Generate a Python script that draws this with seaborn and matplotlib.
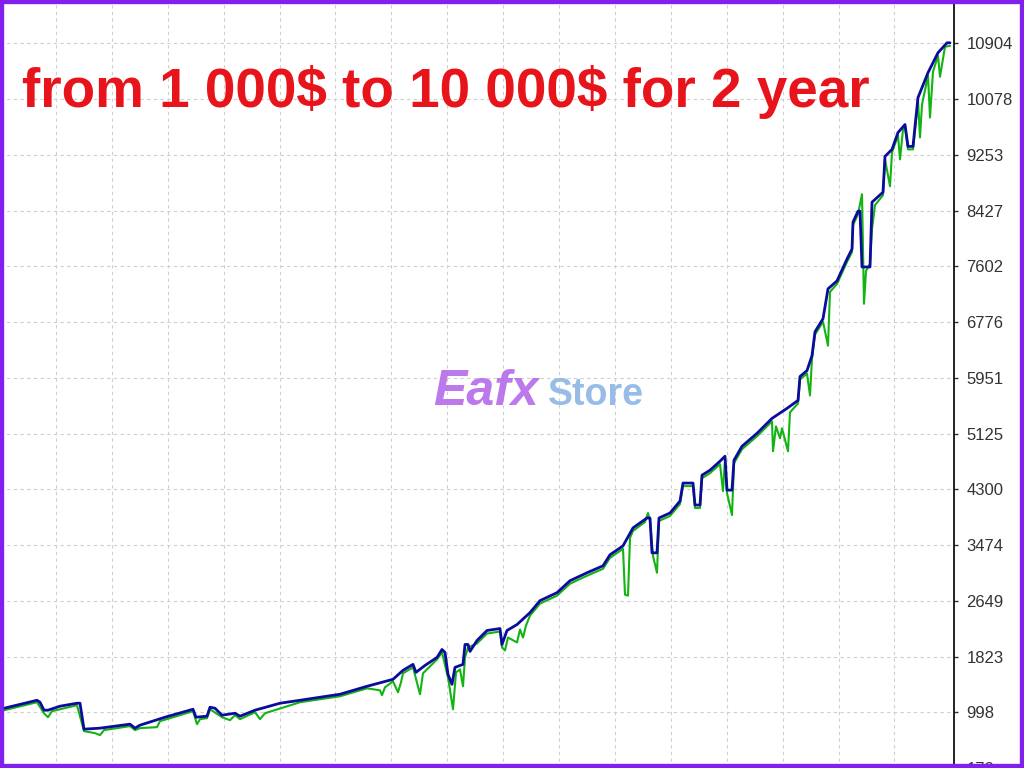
import numpy as np
import pandas as pd
import matplotlib
matplotlib.use("Agg")
import matplotlib.pyplot as plt
import seaborn as sns
from matplotlib.patches import Rectangle

# --- data (x = trade index, y = account value $) ---
balance_x = [0, 37, 40, 44, 48, 60, 77, 80, 84, 100, 130, 135, 140, 165, 193, 196,
             207, 210, 215, 222, 235, 240, 255, 280, 300, 340, 367, 393, 403, 413,
             416, 425, 437, 442, 445, 448, 452, 455, 463, 465, 468, 470, 477, 487,
             500, 502, 507, 517, 530, 540, 557, 570, 587, 603, 610, 623, 633, 647,
             650, 652, 657, 659, 670, 680, 683, 693, 695, 700, 702, 710, 720, 725,
             727, 732, 734, 742, 757, 772, 787, 798, 800, 807, 812, 815, 823, 828,
             837, 847, 852, 853, 858, 860, 862, 870, 872, 883, 885, 892, 898, 905,
             908, 913, 915, 918, 928, 938, 947, 950]
balance_y = [1042, 1175, 1146, 1028, 1028, 1087, 1131, 1131, 747, 762, 821, 762, 806,
             924, 1042, 924, 939, 1072, 1057, 954, 983, 939, 1028, 1131, 1175, 1264,
             1382, 1485, 1618, 1706, 1588, 1691, 1809, 1927, 1883, 1558, 1411, 1662,
             1706, 2001, 2001, 1898, 2060, 2208, 2237, 2001, 2208, 2296, 2473, 2650,
             2768, 2945, 3063, 3166, 3329, 3461, 3727, 3874, 3874, 3358, 3358, 3874,
             3948, 4125, 4391, 4391, 4066, 4066, 4508, 4582, 4715, 4789, 4287, 4287,
             4730, 4936, 5128, 5349, 5497, 5615, 5969, 6057, 6278, 6632, 6824, 7267,
             7385, 7709, 7857, 8255, 8417, 8417, 7591, 7591, 8550, 8698, 9228, 9332,
             9582, 9700, 9376, 9376, 9671, 10099, 10468, 10763, 10910, 10910]

equity_x = [0, 37, 44, 48, 52, 77, 84, 95, 100, 104, 130, 135, 140, 157, 160, 193,
            197, 200, 207, 210, 222, 230, 235, 240, 255, 260, 265, 300, 340, 367,
            380, 382, 385, 393, 398, 401, 403, 413, 420, 423, 437, 442, 448, 453,
            456, 460, 463, 465, 468, 477, 487, 500, 502, 505, 508, 517, 520, 523,
            526, 530, 540, 557, 570, 587, 603, 610, 623, 625, 628, 630, 633, 645,
            648, 650, 653, 657, 659, 670, 680, 683, 693, 695, 700, 702, 710, 720,
            723, 725, 727, 732, 734, 742, 757, 772, 773, 776, 780, 782, 788, 790,
            798, 800, 807, 810, 812, 815, 823, 828, 830, 837, 847, 852, 853, 858,
            862, 864, 866, 870, 872, 875, 883, 885, 890, 892, 898, 900, 903, 905,
            908, 913, 915, 918, 920, 922, 928, 930, 933, 938, 940, 945, 950]
equity_y = [1013, 1146, 983, 924, 1013, 1102, 718, 688, 659, 733, 792, 733, 762, 777,
            865, 1013, 821, 895, 910, 1042, 924, 880, 954, 895, 998, 895, 983, 1146,
            1234, 1352, 1322, 1249, 1367, 1455, 1293, 1440, 1574, 1662, 1264, 1574,
            1780, 1883, 1514, 1042, 1588, 1632, 1382, 1809, 1957, 2016, 2163, 2193,
            1957, 1913, 2104, 2031, 2222, 2104, 2281, 2429, 2606, 2724, 2901, 3019,
            3122, 3284, 3417, 2739, 2724, 3579, 3682, 3815, 3948, 3830, 3313, 3063,
            3830, 3904, 4081, 4346, 4346, 4022, 4022, 4464, 4538, 4671, 4272, 4744,
            4242, 3918, 4685, 4892, 5084, 5305, 4862, 5231, 5054, 5202, 4862, 5438,
            5571, 5925, 6013, 5688, 6234, 6588, 6780, 6426, 7222, 7340, 7665, 7812,
            8210, 8372, 8668, 7046, 7532, 7636, 8152, 8506, 8654, 9184, 8786, 9287,
            9538, 9184, 9627, 9656, 9332, 9332, 9612, 10054, 9509, 9995, 10423, 9803,
            10482, 10718, 10408, 10851, 10866]

tick_values = [172, 998, 1823, 2649, 3474, 4300, 5125, 5951, 6776, 7602, 8427,
               9253, 10078, 10904]

title = r"from 1 000\$ to 10 000\$ for 2 year"

balance = pd.DataFrame({"trade": balance_x, "value": balance_y})
equity = pd.DataFrame({"trade": equity_x, "value": equity_y})

sns.set_style("white")
plt.rcParams["font.family"] = ["Liberation Sans", "DejaVu Sans"]

fig = plt.figure(figsize=(10.24, 7.68), dpi=100)
ax = fig.add_axes([0, 0, 954 / 1024, 1])

sns.lineplot(data=equity, x="trade", y="value", sort=False, estimator=None,
             color="#13B313", linewidth=1.5, ax=ax)
sns.lineplot(data=balance, x="trade", y="value", sort=False, estimator=None,
             color="#0B0B9C", linewidth=2.0, ax=ax)

ax.set_xlim(0, 954)
ax.set_ylim(216, 11544)
ax.set_xticks(np.arange(1, 17) * 55.9)
ax.set_xticklabels([])
ax.tick_params(axis="x", length=0)
ax.set_yticks(tick_values)
ax.set_yticklabels([str(v) for v in tick_values], fontsize=12, color="#333333")
ax.yaxis.tick_right()
ax.tick_params(axis="y", direction="out", length=3, width=1, pad=6, colors="#333333")
ax.set_xlabel("")
ax.set_ylabel("")
ax.grid(True, color="#cfcfcf", linestyle=(0, (3, 3)), linewidth=0.8)
ax.set_axisbelow(True)
for side in ["left", "top", "bottom"]:
    ax.spines[side].set_visible(False)
ax.spines["right"].set_color("#111111")
ax.spines["right"].set_linewidth(1.3)

# headline
fig.text(22 / 1024, 1 - 107 / 768, title, color="#E8141C", fontsize=39.5,
         fontweight="bold", ha="left", va="baseline")

# watermark
fig.text(433 / 1024, 1 - 405 / 768, "Eafx", color="#B46BE9", fontsize=36,
         fontweight="bold", style="italic", ha="left", va="baseline", alpha=0.9)
fig.text(548 / 1024, 1 - 405 / 768, "Store", color="#8DB5E6", fontsize=27,
         fontweight="bold", ha="left", va="baseline", alpha=0.9)

# purple frame
fig.patches.append(Rectangle((0, 0), 1, 1, transform=fig.transFigure, fill=False,
                             edgecolor="#8420EE", linewidth=6, zorder=10))

fig.savefig("out.png", dpi=100)
